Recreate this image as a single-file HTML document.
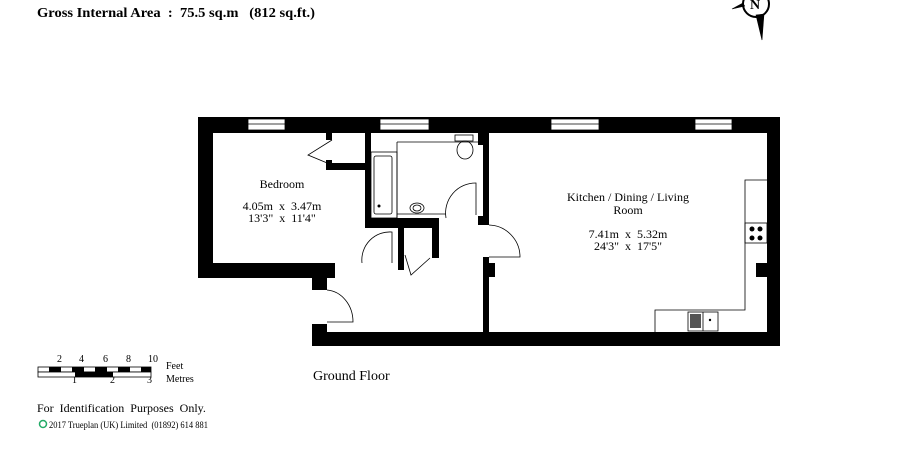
<!DOCTYPE html>
<html><head><meta charset="utf-8"><style>
html,body{margin:0;padding:0;background:#fff;}
svg{display:block;}
text{font-family:"Liberation Serif",serif;fill:#000;white-space:pre;}
</style></head><body>
<svg width="923" height="459" viewBox="0 0 923 459" xmlns="http://www.w3.org/2000/svg" xml:space="preserve">
<text x="37" y="17" font-size="14" font-weight="bold" textLength="278" lengthAdjust="spacingAndGlyphs">Gross Internal Area  :  75.5 sq.m   (812 sq.ft.)</text>
<g stroke="#000" fill="none">
<circle cx="756" cy="4" r="13" stroke-width="2"/>
<path d="M756 15 L762 40 L764 14 Z" fill="#000" stroke-width="0.6"/>
<path d="M745 6 L732 9 L743 3" fill="#000" stroke-width="0.6"/>
</g>
<text x="750" y="9" font-size="14" font-weight="bold">N</text>

<g fill="#000">
<rect x="198" y="117" width="582" height="16"/>
<rect x="198" y="117" width="15" height="161"/>
<rect x="198" y="263" width="137" height="15"/>
<rect x="312" y="263" width="15" height="27"/>
<rect x="767" y="117" width="13" height="229"/>
<rect x="756" y="263" width="11" height="14"/>
<rect x="312" y="332" width="468" height="14"/>
<rect x="312" y="324" width="15" height="22"/>
<rect x="365" y="133" width="6" height="95"/>
<rect x="365" y="218" width="32" height="10"/>
<rect x="326" y="163" width="40" height="7"/>
<rect x="326" y="133" width="6" height="7"/>
<rect x="326" y="160" width="6" height="10"/>
<rect x="398" y="228" width="6" height="42"/>
<rect x="432" y="218" width="7" height="40"/>
<rect x="397" y="218" width="42" height="10"/>
<rect x="483" y="133" width="6" height="92"/>
<rect x="478" y="133" width="11" height="12"/>
<rect x="478" y="216" width="11" height="9"/>
<rect x="483" y="257" width="6" height="89"/>
<rect x="483" y="263" width="12" height="14"/>
</g>
<g fill="#fff" stroke="#000" stroke-width="0.8">
<rect x="248" y="119" width="37" height="11"/>
<rect x="380" y="119" width="49" height="11"/>
<rect x="551" y="119" width="48" height="11"/>
<rect x="695" y="119" width="37" height="11"/>
</g>
<g stroke="#000" stroke-width="0.8" fill="none">
<line x1="248" y1="124" x2="285" y2="124"/><line x1="380" y1="124" x2="429" y2="124"/>
<line x1="551" y1="124" x2="599" y2="124"/><line x1="695" y1="124" x2="732" y2="124"/>
<rect x="371" y="152" width="26" height="66"/>
<rect x="374" y="156" width="18" height="58" rx="2"/>
<line x1="397" y1="142" x2="478" y2="142"/>
<line x1="397" y1="142" x2="397" y2="218"/>
<line x1="397" y1="214" x2="446" y2="214"/>
<rect x="455" y="135" width="18" height="6"/>
<ellipse cx="465" cy="150" rx="8" ry="9"/>
<ellipse cx="417" cy="208" rx="7" ry="5"/><ellipse cx="417" cy="208" rx="4" ry="3"/>
<path d="M332 140 L308 155 L332 165"/>
<path d="M446 218 A30 30 0 0 1 476 183 L476 215"/>
<path d="M362 263 A28 28 0 0 1 392 232 L392 263"/>
<path d="M405 255 L411 275 L430 258"/>
<path d="M489 225 A32 32 0 0 1 520 257 L489 257"/>
<path d="M327 290 A28 32 0 0 1 353 322 L327 322"/>
<polyline points="767,180 745,180 745,310 655,310 655,332"/>
<rect x="745" y="223" width="22" height="20"/>
<rect x="688" y="312" width="30" height="19"/>
<line x1="703" y1="312" x2="703" y2="331"/>
</g>
<g fill="#000">
<circle cx="752" cy="229" r="2.5"/><circle cx="760" cy="229" r="2.5"/>
<circle cx="752" cy="238" r="2.5"/><circle cx="760" cy="238" r="2.5"/>
<circle cx="379" cy="206" r="1.5"/><circle cx="710" cy="320" r="1.2"/>
<rect x="690" y="314" width="11" height="14" fill="#555"/>
</g>

<g font-size="12" text-anchor="middle">
<text x="282" y="188">Bedroom</text>
<text x="282" y="210">4.05m  x  3.47m</text>
<text x="282" y="222">13'3"  x  11'4"</text>
<text x="628" y="201">Kitchen / Dining / Living</text>
<text x="628" y="214">Room</text>
<text x="628" y="238">7.41m  x  5.32m</text>
<text x="628" y="250">24'3"  x  17'5"</text>
</g>
<text x="313" y="380" font-size="14">Ground Floor</text>

<g font-size="10">
<text x="57" y="362">2</text><text x="79" y="362">4</text><text x="103" y="362">6</text><text x="126" y="362">8</text><text x="148" y="362">10</text>
<text x="166" y="369">Feet</text><text x="166" y="382">Metres</text>
<text x="72" y="383">1</text><text x="110" y="383">2</text><text x="147" y="383">3</text>
</g>
<rect x="38" y="367" width="113" height="5" fill="#fff" stroke="#000" stroke-width="0.8"/>
<rect x="38" y="372" width="113" height="5" fill="#fff" stroke="#000" stroke-width="0.8"/>
<g fill="#000">
<rect x="49" y="367" width="12" height="5"/><rect x="72" y="367" width="12" height="5"/><rect x="95" y="367" width="12" height="5"/><rect x="118" y="367" width="12" height="5"/><rect x="141" y="367" width="10" height="5"/>
<rect x="75" y="372" width="38" height="5"/>
</g>
<text x="37" y="412" font-size="12">For  Identification  Purposes  Only.</text>
<circle cx="43" cy="424" r="3.5" fill="none" stroke="#2a6" stroke-width="1.5"/>
<text x="49" y="428" font-size="9" textLength="159" lengthAdjust="spacingAndGlyphs">2017 Trueplan (UK) Limited  (01892) 614 881</text>
</svg>
</body></html>
